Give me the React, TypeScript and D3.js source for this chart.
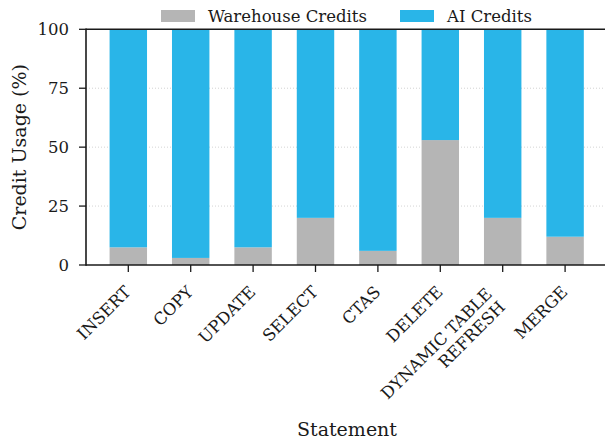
import React, { useEffect, useRef } from "react";
import * as d3 from "d3";

const categories: string[][] = [
  ["INSERT"],
  ["COPY"],
  ["UPDATE"],
  ["SELECT"],
  ["CTAS"],
  ["DELETE"],
  ["DYNAMIC TABLE", "REFRESH"],
  ["MERGE"],
];
const warehouseCredits: number[] = [7.5, 3, 7.5, 20, 6, 53, 20, 12];
const aiCredits: number[] = warehouseCredits.map((w) => 100 - w);
const yTicks: number[] = [0, 25, 50, 75, 100];
const seriesNames: string[] = ["Warehouse Credits", "AI Credits"];
const seriesColors: string[] = ["#b5b5b5", "#29b5e8"];

const W = 605;
const H = 442;
const FONT = "DejaVu Serif";
const TICK_FS = 16.5;
const TITLE_FS = 19;

export default function App() {
  const ref = useRef<SVGSVGElement | null>(null);

  useEffect(() => {
    const svg = d3.select(ref.current);
    svg.selectAll("*").remove();

    const left = 86;
    const top = 29.3;
    const bottom = 265;
    const idx = categories.map((_, i) => String(i));
    const x = d3
      .scalePoint<string>()
      .domain(idx)
      .range([left, 607.4])
      .padding(0.678);
    const step = x.step();
    const bw = step * 0.6;
    const y = d3.scaleLinear().domain([0, 100]).range([bottom, top]);

    // grid
    svg
      .append("g")
      .selectAll("line")
      .data(yTicks.filter((t) => t > 0 && t < 100))
      .join("line")
      .attr("x1", left)
      .attr("x2", W)
      .attr("y1", (d) => y(d))
      .attr("y2", (d) => y(d))
      .attr("stroke", "#c8c8c8")
      .attr("stroke-width", 0.8)
      .attr("stroke-dasharray", "1,2");

    // bars
    const g = svg.append("g");
    g.selectAll("rect.wh")
      .data(warehouseCredits)
      .join("rect")
      .attr("class", "wh")
      .attr("x", (_, i) => (x(String(i)) as number) - bw / 2)
      .attr("width", bw)
      .attr("y", (d) => y(d))
      .attr("height", (d) => y(0) - y(d))
      .attr("fill", seriesColors[0]);
    g.selectAll("rect.ai")
      .data(aiCredits)
      .join("rect")
      .attr("class", "ai")
      .attr("x", (_, i) => (x(String(i)) as number) - bw / 2)
      .attr("width", bw)
      .attr("y", (d, i) => y(warehouseCredits[i] + d))
      .attr("height", (d) => y(0) - y(d))
      .attr("fill", seriesColors[1]);

    // spines
    const spine = (x1: number, y1: number, x2: number, y2: number) =>
      svg
        .append("line")
        .attr("x1", x1)
        .attr("x2", x2)
        .attr("y1", y1)
        .attr("y2", y2)
        .attr("stroke", "#1a1a1a")
        .attr("stroke-width", 1.6);
    spine(left, top, W, top);
    spine(left, bottom, W, bottom);
    spine(left, top - 0.8, left, bottom + 0.8);

    // y ticks
    const yt = svg.append("g");
    yTicks.forEach((t) => {
      yt.append("line")
        .attr("x1", left - 7)
        .attr("x2", left)
        .attr("y1", y(t))
        .attr("y2", y(t))
        .attr("stroke", "#1a1a1a")
        .attr("stroke-width", 1.3);
      yt.append("text")
        .attr("x", left - 17)
        .attr("y", y(t))
        .attr("dy", "0.36em")
        .attr("text-anchor", "end")
        .attr("font-family", FONT)
        .attr("font-size", TICK_FS)
        .attr("fill", "#1a1a1a")
        .text(String(t));
    });

    // x ticks + labels
    const xt = svg.append("g");
    const lh = 18.5;
    categories.forEach((lines, i) => {
      const cx = x(String(i)) as number;
      xt.append("line")
        .attr("x1", cx)
        .attr("x2", cx)
        .attr("y1", bottom)
        .attr("y2", bottom + 7)
        .attr("stroke", "#1a1a1a")
        .attr("stroke-width", 1.3);
      const extra = lines.length - 1;
      const ax = cx + 3.5 - extra * lh * Math.SQRT1_2;
      const ay = bottom + 28 + extra * 2;
      const txt = xt
        .append("text")
        .attr("transform", `translate(${ax},${ay}) rotate(-45)`)
        .attr("font-family", FONT)
        .attr("font-size", TICK_FS)
        .attr("text-anchor", "end")
        .attr("fill", "#1a1a1a");
      lines.forEach((l, k) => {
        txt.append("tspan").attr("x", 0).attr("y", k * lh).text(l);
      });
    });

    // axis titles
    svg
      .append("text")
      .attr("transform", `translate(25.5,${(top + bottom) / 2}) rotate(-90)`)
      .attr("text-anchor", "middle")
      .attr("font-family", FONT)
      .attr("font-size", TITLE_FS)
      .attr("fill", "#1a1a1a")
      .text("Credit Usage (%)");
    svg
      .append("text")
      .attr("x", 347)
      .attr("y", 436)
      .attr("text-anchor", "middle")
      .attr("font-family", FONT)
      .attr("font-size", TITLE_FS)
      .attr("fill", "#1a1a1a")
      .text("Statement");

    // legend
    const legendX = [161, 400];
    seriesNames.forEach((name, i) => {
      svg
        .append("rect")
        .attr("x", legendX[i])
        .attr("y", 10)
        .attr("width", 34)
        .attr("height", 12)
        .attr("fill", seriesColors[i]);
      svg
        .append("text")
        .attr("x", legendX[i] + 47)
        .attr("y", 21.5)
        .attr("font-family", FONT)
        .attr("font-size", TICK_FS)
        .attr("fill", "#1a1a1a")
        .text(name);
    });
  }, []);

  return (
    <svg
      ref={ref}
      width={W}
      height={H}
      style={{ position: "absolute", left: 0, top: 0, background: "#fff" }}
    />
  );
}
